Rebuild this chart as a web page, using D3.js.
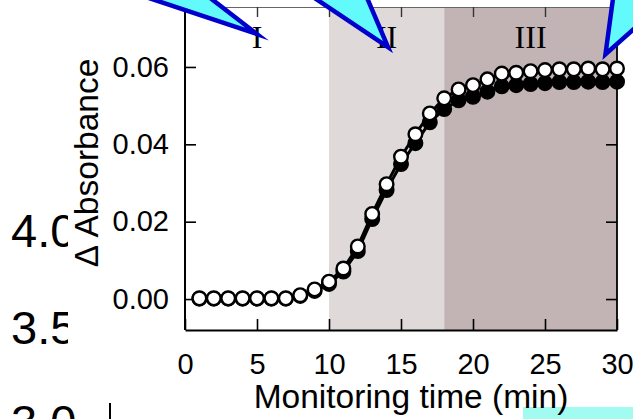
<!DOCTYPE html>
<html><head><meta charset="utf-8">
<script src="https://cdn.jsdelivr.net/npm/d3@7"></script>
<style>
html,body{margin:0;padding:0;background:#fff;overflow:hidden;}
svg{display:block;}
</style></head><body>
<svg id="chart" width="633" height="419"></svg>
<script>
// Monitoring time (min)
const times = [1,2,3,4,5,6,7,8,9,10,11,12,13,14,15,16,17,18,19,20,21,22,23,24,25,26,27,28,29,30];
// Δ Absorbance, open-circle series
const openValues = [0.0002,0.0002,0.0002,0.0002,0.0002,0.0002,0.0002,0.0010,0.0025,0.0045,
                    0.0079,0.0136,0.0220,0.0297,0.0368,0.0426,0.0480,0.0519,0.0542,0.0553,
                    0.0568,0.0583,0.0585,0.0589,0.0592,0.0594,0.0594,0.0596,0.0594,0.0596];
// Δ Absorbance, filled-circle series
const filledValues = [0.0001,0.0001,0.0001,0.0001,0.0001,0.0001,0.0001,0.0008,0.0021,0.0039,
                      0.0071,0.0124,0.0207,0.0282,0.0349,0.0403,0.0457,0.0491,0.0514,0.0523,
                      0.0536,0.0550,0.0553,0.0556,0.0558,0.0561,0.0561,0.0562,0.0561,0.0562];
// Phases of the reaction
const phaseLabels = ["I","II","III"];
const phaseStart = [0,10,18];
const phaseEnd = [10,18,30];
const phaseLabelAt = [5,14,24];
const phaseFill = ["#ffffff","#dfd9da","#c2b4b4"];
// Axis ticks
const xTicks = [0,5,10,15,20,25,30];
const yTicks = [0.00,0.02,0.04,0.06];
// Callout tips (data units)
const calloutTips = [[5,0.0685],[14.1,0.0651],[29.2,0.0633]];

const svg = d3.select("#chart");
const W = 633, H = 419;
const sans = "'Liberation Sans', Arial, sans-serif";
const serif = "'Liberation Serif', 'Times New Roman', serif";

// Partly covered axis of a neighbouring panel
[["4.0",247],["3.5",344],["3.0",438]].forEach(([t,yb]) => {
  svg.append("text").attr("x",11).attr("y",yb).attr("font-family",sans)
    .attr("font-size",47).attr("fill","#000").text(t);
});
svg.append("line").attr("x1",110).attr("x2",110).attr("y1",403).attr("y2",419)
  .attr("stroke","#000").attr("stroke-width",2);
svg.append("rect").attr("x",68).attr("y",0).attr("width",W-68).attr("height",398).attr("fill","#fff");
svg.append("rect").attr("x",523).attr("y",407).attr("width",110).attr("height",12).attr("fill","#a2fbf1");

const m = {left:185, right:617, top:7, bottom:330};
const x = d3.scaleLinear().domain([0,30]).range([m.left,m.right]);
const y = d3.scaleLinear().domain([-0.008,0.0755]).range([m.bottom,m.top]);

// Phase shading
const g = svg.append("g");
phaseLabels.forEach((p,i) => {
  g.append("rect").attr("x",x(phaseStart[i])).attr("y",m.top)
    .attr("width",x(phaseEnd[i])-x(phaseStart[i])).attr("height",m.bottom-m.top)
    .attr("fill",phaseFill[i]);
});

// Axes (ticks pointing inward)
const fmt = d3.format(".2f");
const axB = svg.append("g").attr("transform",`translate(0,${m.bottom})`)
  .call(d3.axisBottom(x).tickValues(xTicks).tickSize(-11).tickPadding(23).tickSizeOuter(0));
const axL = svg.append("g").attr("transform",`translate(${m.left},0)`)
  .call(d3.axisLeft(y).tickValues(yTicks).tickFormat(fmt).tickSize(-11).tickPadding(16).tickSizeOuter(0));
const axT = svg.append("g").attr("transform",`translate(0,${m.top})`)
  .call(d3.axisTop(x).tickValues(xTicks.slice(1,-1)).tickSize(-10).tickFormat("").tickSizeOuter(0));
const axR = svg.append("g").attr("transform",`translate(${m.right},0)`)
  .call(d3.axisRight(y).tickValues(yTicks).tickSize(-11).tickFormat("").tickSizeOuter(0));

[axB,axL].forEach(a => {
  a.select(".domain").attr("stroke","#000").attr("stroke-width",2);
  a.selectAll(".tick line").attr("stroke","#000").attr("stroke-width",1.6);
  a.selectAll("text").attr("font-family",sans).attr("font-size",29).attr("fill","#000");
});
axT.select(".domain").attr("stroke","#666").attr("stroke-width",1.2);
axT.selectAll(".tick line").attr("stroke","#333").attr("stroke-width",1.4);
axR.select(".domain").attr("stroke","#000").attr("stroke-width",1.8);
axR.selectAll(".tick line").attr("stroke","#000").attr("stroke-width",1.6);
axL.select(".domain").attr("d",`M0,${m.top}V${m.bottom}`);
axR.select(".domain").attr("d",`M0,${m.top}V${m.bottom}`);

// Axis titles
svg.append("text").attr("x",411).attr("y",408).attr("text-anchor","middle")
  .attr("font-family",sans).attr("font-size",33.5).attr("fill","#000").text("Monitoring time (min)");
svg.append("text").attr("transform","translate(98,163) rotate(-90)").attr("text-anchor","middle")
  .attr("font-family",sans).attr("font-size",33.5).attr("fill","#000").text("Δ Absorbance");

// Series
const line = d3.line().x(d => x(d[0])).y(d => y(d[1]));
const filled = times.map((t,i) => [t, filledValues[i]]);
const open = times.map((t,i) => [t, openValues[i]]);
svg.append("path").datum(filled).attr("d",line).attr("fill","none").attr("stroke","#000").attr("stroke-width",3);
svg.append("g").selectAll("circle").data(filled).join("circle")
  .attr("cx",d => x(d[0])).attr("cy",d => y(d[1])).attr("r",6.8)
  .attr("fill","#000").attr("stroke","#000").attr("stroke-width",2.4);
svg.append("path").datum(open).attr("d",line).attr("fill","none").attr("stroke","#000").attr("stroke-width",3);
svg.append("g").selectAll("circle").data(open).join("circle")
  .attr("cx",d => x(d[0])).attr("cy",d => y(d[1])).attr("r",6.8)
  .attr("fill","#fff").attr("stroke","#000").attr("stroke-width",2.4);

// Phase labels
phaseLabels.forEach((p,i) => {
  svg.append("text").attr("x",x(phaseLabelAt[i])).attr("y",48).attr("text-anchor","middle")
    .attr("font-family",serif).attr("font-size",32).attr("fill","#000").text(p);
});

// Callout arrows: offsets of the two far corners from each tip
const calloutShape = [
  [[-162,-54],[-70,-54]],
  [[-100,-67],[-28.5,-67]],
  [[10,-74],[54,-48],[54,-74]]
];
calloutTips.forEach((tp,i) => {
  const tx = x(tp[0]), ty = y(tp[1]);
  const c = calloutShape[i];
  let pts;
  if (c.length === 2) pts = [[tx+c[0][0],ty+c[0][1]],[tx,ty],[tx+c[1][0],ty+c[1][1]]];
  else pts = [[tx+c[0][0],ty+c[0][1]],[tx,ty],[tx+c[1][0],ty+c[1][1]],[tx+c[2][0],ty+c[2][1]]];
  svg.append("path").attr("d","M"+pts.map(p => p.join(",")).join("L")+"Z")
    .attr("fill","#62fafa").attr("stroke","#0000cc").attr("stroke-width",4.5)
    .attr("stroke-linejoin","miter").attr("stroke-miterlimit",10);
});
</script>
</body></html>
